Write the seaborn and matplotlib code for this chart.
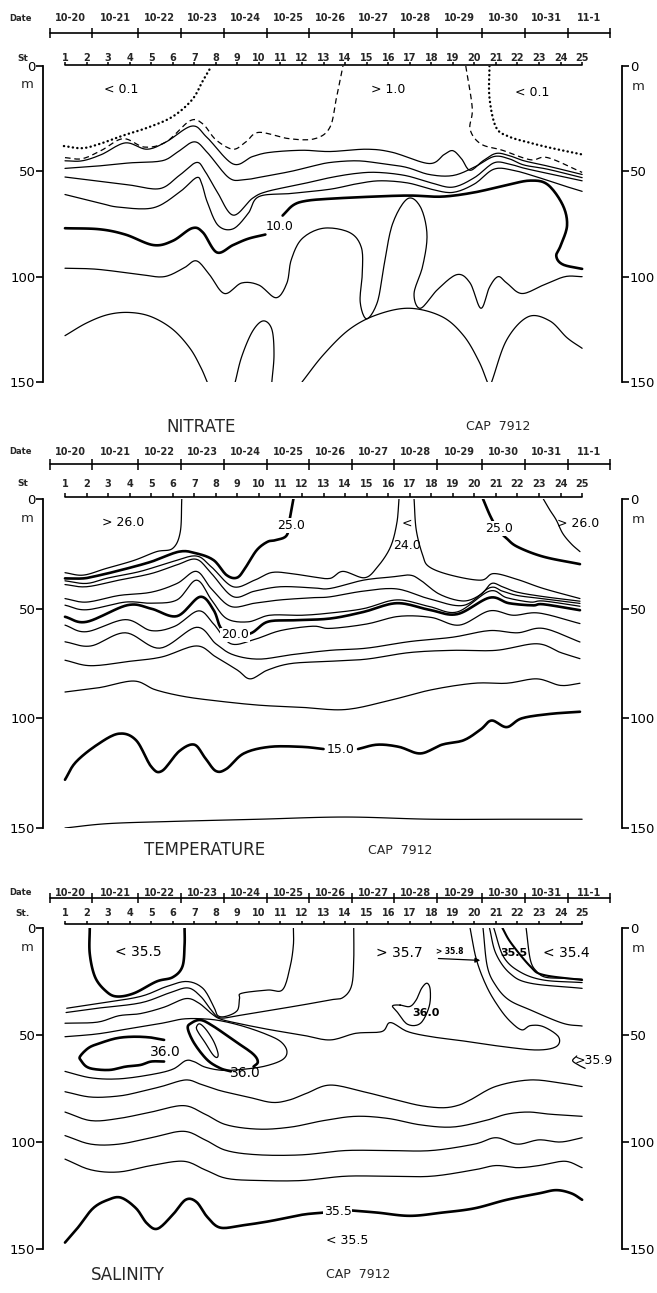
import numpy as np
import matplotlib
matplotlib.use("Agg")
import matplotlib.pyplot as plt
import seaborn as sns

sns.set_theme(style="white")
plt.rcParams["font.family"] = ["DejaVu Sans"]

# ---------------- cruise track ----------------
dates = ["10-20", "10-21", "10-22", "10-23", "10-24", "10-25", "10-26",
         "10-27", "10-28", "10-29", "10-30", "10-31", "11-1"]
date_edges = [0.30, 2.25, 4.39, 6.39, 8.38, 10.38, 12.33, 14.32, 16.27,
              18.27, 20.36, 22.36, 24.35, 26.30]
stations = list(range(1, 26))
depth_ticks = [0, 50, 100, 150]

# ---------------- NITRATE isolines (station, depth m) ----------------
no3_dot_w = [(0.95, 38), (1.8, 39), (2.6, 37), (3.7, 33), (4.9, 29), (6.0, 24),
             (6.9, 16), (7.4, 7), (7.8, 0)]
no3_dot_e = [(20.7, 0), (20.7, 15), (21.0, 29), (21.6, 33.5), (22.6, 36.5),
             (23.6, 39), (25.0, 42)]
no3_dash_w = [(1.0, 43.5), (1.8, 44), (2.7, 40), (3.7, 34.5), (4.7, 38.5), (5.7, 36),
              (6.8, 26), (7.4, 27.5), (8.0, 35), (8.8, 39.5), (9.4, 36), (10.0, 31.5),
              (11.4, 34.5), (12.6, 34.5), (13.3, 29), (13.6, 15), (13.9, 0)]
no3_dash_e = [(19.6, 0), (19.9, 20), (19.8, 30), (20.3, 37), (21.3, 40), (22.6, 44.5),
              (23.4, 43.5), (25.0, 50.5)]
no3_l1 = [(1.0, 45), (1.8, 45), (2.7, 42), (3.8, 36.5), (4.8, 39.5), (5.7, 36), (6.9, 28.5),
          (7.6, 34), (8.8, 46.5), (9.7, 43), (10.5, 41), (12.0, 40), (13.3, 40.6), (15.0, 39.5),
          (16.2, 41), (17.9, 46.3), (18.6, 42), (19.0, 40.2), (19.4, 44), (19.8, 49.5),
          (20.4, 45), (21.0, 41.5), (21.6, 42.5), (22.3, 45), (23.4, 47.5), (25.0, 51.5)]
no3_l2 = [(1.0, 48.6), (2.5, 47.5), (4.0, 46), (5.5, 45), (6.2, 41), (7.0, 36), (7.6, 41),
          (8.6, 53), (9.3, 54), (10.2, 52.5), (11.5, 50), (12.5, 47.5), (13.3, 45.8),
          (14.5, 45), (15.5, 46), (16.8, 48), (17.9, 51.5), (19.0, 52), (20.0, 48),
          (20.9, 43), (21.6, 44), (22.3, 47), (23.4, 49), (25.0, 53)]
no3_l3 = [(1.0, 52.7), (2.6, 54.7), (4.0, 56.5), (5.4, 58.2), (6.3, 52), (7.1, 45.8),
          (7.5, 50), (8.05, 59.5), (8.8, 70.8), (9.7, 62.8), (10.4, 59.5), (12.0, 56),
          (13.3, 53), (14.5, 51), (15.5, 50.5), (16.8, 52), (18.0, 55.5), (19.0, 57.5),
          (20.0, 53), (20.9, 46), (21.6, 46.5), (22.3, 48.5), (23.4, 51), (25.0, 54.5)]
no3_l4 = [(1.0, 61), (2.6, 65), (3.5, 67), (5.1, 67.3), (6.3, 60), (7.1, 53), (7.35, 56),
          (7.6, 64.5), (8.1, 75.6), (8.8, 77.3), (9.5, 70), (10.0, 62), (11.5, 60.5),
          (13.3, 58.5), (14.5, 56), (15.6, 54.5), (16.9, 55.5), (18.0, 58.5), (19.0, 60),
          (20.0, 56), (20.9, 49), (21.8, 49.5), (23.0, 53), (24.2, 57), (25.0, 59.5)]
no3_10a = [(1.0, 77), (2.6, 77.5), (3.8, 80), (5.1, 85), (6.0, 83), (6.9, 77), (7.4, 79),
           (8.05, 88.5), (8.8, 85), (9.5, 82), (10.3, 80)]
no3_10b = [(11.1, 71), (11.6, 66), (12.2, 64), (13.3, 63), (15.3, 62), (17.0, 61.5),
           (18.5, 62), (20.0, 60), (21.5, 56.5), (22.6, 54.4), (23.4, 56.3), (24.1, 66),
           (24.3, 75.7), (24.0, 85.3), (23.8, 90.2), (24.1, 94.2), (25.0, 96.3)]
no3_l5 = [(1.0, 96), (2.5, 96.5), (4.5, 99), (5.6, 100), (6.5, 96), (7.1, 92.5), (7.7, 99),
          (8.4, 108), (9.2, 103), (10.0, 104), (10.8, 110), (11.3, 103), (11.5, 92),
          (12.0, 82), (13.0, 77), (14.2, 79), (14.75, 86), (14.8, 98), (14.7, 112), (15.0, 120),
          (15.5, 112), (15.8, 95), (16.2, 75), (16.9, 63), (17.5, 67), (17.8, 80), (17.6, 95),
          (17.2, 108), (17.5, 115), (18.3, 106), (19.2, 99), (19.8, 103), (20.3, 115),
          (20.7, 105), (21.1, 100), (21.5, 103), (22.2, 108), (23.2, 104), (24.2, 100),
          (25.0, 100)]
no3_l6 = [(1.0, 128), (2.0, 122), (3.0, 118), (4.0, 117), (5.0, 119), (6.0, 125),
          (6.8, 134), (7.3, 143), (7.6, 150)]
no3_l7 = [(8.9, 150), (9.2, 138), (9.7, 126), (10.2, 121), (10.6, 125), (10.7, 137),
          (10.6, 150)]
no3_l8 = [(12.0, 150), (13.0, 137), (14.2, 125), (15.5, 118), (17.0, 115), (18.5, 119),
          (19.5, 128), (20.2, 140), (20.6, 150)]
no3_l9 = [(20.8, 150), (21.5, 130), (22.5, 119), (23.5, 121), (24.3, 129), (25.0, 134)]

# ---------------- TEMPERATURE isolines ----------------
t26_w = [(1.0, 33.6), (1.85, 34.7), (2.9, 31.7), (4.2, 28), (5.25, 24), (6.0, 22.5),
         (6.35, 15), (6.42, 0)]
t26_e = [(23.2, 0), (23.5, 5), (23.8, 9.6), (24.1, 15.7), (24.5, 20.5), (24.9, 24)]
t25_w = [(11.6, 0), (11.45, 8), (11.3, 16.4), (10.8, 18.7), (10.4, 19.5), (9.9, 23.3),
         (9.4, 30.9), (9.0, 35.8), (8.5, 34.7), (7.9, 27.9), (7.1, 24.8), (6.3, 24),
         (5.0, 28.6), (3.6, 32.4), (2.5, 35), (1.85, 36.2), (1.0, 36.2)]
t25_e = [(20.4, 0), (20.75, 8), (21.1, 14), (21.5, 18), (22.0, 21.8), (23.2, 26.3),
         (24.9, 29.7)]
t24_w = [(1.0, 37.3), (2.0, 38.5), (3.0, 36), (4.5, 33), (6.0, 28.5), (7.1, 26), (7.8, 31),
         (8.8, 40), (9.8, 37), (10.6, 33.5), (11.5, 34), (12.5, 35.5), (13.3, 36.2),
         (13.9, 33), (14.9, 35.9), (15.5, 31), (16.1, 22), (16.4, 11), (16.5, 0)]
t24_e = [(17.2, 0), (17.3, 14), (17.6, 25.6), (17.9, 30.9), (18.9, 34.7), (20.3, 37),
         (20.9, 34), (22.0, 36.7), (23.2, 40.8), (24.9, 45.4)]
t23 = [(1.0, 39), (2.0, 40), (3.5, 37), (5.0, 34), (6.2, 30), (7.1, 27.5), (7.8, 34),
       (8.8, 44.5), (9.8, 42), (11.0, 40), (12.5, 40.5), (13.3, 40.8), (14.85, 37),
       (16.2, 35.5), (17.0, 34.7), (17.5, 37), (18.4, 43.5), (19.5, 46.5), (20.3, 43.5),
       (20.8, 38.5), (21.3, 40), (22.0, 42.5), (23.2, 44.5), (24.9, 46.6)]
t22 = [(1.0, 45.4), (2.0, 47), (3.5, 44), (5.0, 42.5), (6.2, 38.5), (7.1, 33), (7.8, 41),
       (8.7, 49), (9.8, 47.5), (11.0, 46), (12.5, 45), (13.3, 44.6), (14.85, 42),
       (16.4, 41), (17.9, 45.5), (19.5, 48.5), (20.7, 40.5), (21.3, 42), (22.0, 44),
       (23.2, 45.5), (24.9, 47.6)]
t21 = [(1.0, 48.4), (2.0, 50.5), (3.8, 47), (5.0, 47.5), (6.2, 46), (7.1, 37), (7.8, 46),
       (8.5, 54.5), (9.5, 56), (10.5, 53), (12.0, 53), (13.3, 52), (14.85, 50), (16.4, 46),
       (17.9, 49), (19.2, 51.5), (20.7, 42), (21.5, 45), (22.6, 47), (23.2, 46.5),
       (24.9, 48.9)]
t20 = [(1.0, 53.7), (2.0, 56), (3.9, 48.4), (5.0, 50), (6.2, 53.4), (7.27, 44.6),
       (7.9, 50.7), (8.2, 58.3), (8.6, 62), (9.6, 61.3), (10.4, 56), (11.6, 55.3),
       (13.3, 54.5), (14.85, 51.5), (16.4, 47.5), (17.9, 50.5), (19.2, 52.5), (20.7, 45),
       (21.6, 47.5), (22.7, 48.5), (23.2, 48), (24.9, 50.7)]
t19 = [(1.0, 57.5), (2.0, 60.5), (3.8, 55), (5.0, 60), (6.1, 58), (7.2, 51), (7.9, 57),
       (8.7, 66), (9.8, 64), (11.0, 60), (12.5, 58), (13.3, 59), (15.0, 57), (16.5, 53.5),
       (18.0, 54), (19.3, 57.5), (20.7, 51), (21.8, 53), (23.0, 52), (24.9, 56.8)]
t18 = [(1.0, 65.1), (2.2, 67), (3.8, 61), (5.4, 68), (7.1, 58.5), (8.0, 66), (8.8, 71),
       (10.0, 73), (11.5, 71), (13.3, 69), (15.0, 68), (17.0, 65), (19.0, 63),
       (20.7, 60), (22.0, 61), (23.2, 59), (24.9, 65.2)]
t17 = [(1.0, 73.5), (2.2, 76), (4.0, 74), (5.5, 72), (7.1, 67), (8.0, 72), (9.0, 78),
       (9.6, 82), (10.4, 78), (11.5, 75), (13.3, 74), (15.0, 73), (17.0, 70), (19.0, 69),
       (21.0, 69), (22.9, 66), (24.0, 70), (24.9, 72.8)]
t16 = [(1.0, 88), (2.6, 86), (4.2, 83), (5.2, 87), (6.5, 90), (8.0, 92), (10.0, 94),
       (12.0, 95), (14.0, 96), (16.0, 92), (18.0, 87), (20.0, 84), (21.5, 84),
       (22.9, 82), (24.0, 85), (24.9, 84)]
t15a = [(1.0, 128), (1.5, 120), (2.5, 112), (3.5, 107), (4.3, 110), (5.0, 122),
        (5.5, 124), (6.3, 115), (7.0, 112), (7.5, 118), (8.0, 124), (8.5, 123),
        (9.3, 116), (10.5, 113), (12.0, 113), (13.0, 114)]
t15b = [(14.6, 114), (15.5, 112), (16.5, 113), (17.5, 116), (18.5, 112), (19.5, 110),
        (20.3, 105), (20.8, 101), (21.5, 104), (22.2, 100), (23.5, 98), (24.9, 97)]
t14 = [(1.0, 150), (3.0, 148), (6.0, 147), (10.0, 146), (14.0, 145), (18.0, 146),
       (22.0, 146), (25.0, 146)]

# ---------------- SALINITY isolines ----------------
s355_top = [(2.15, 0), (2.15, 12), (2.4, 23), (2.9, 29.5), (3.4, 32), (4.2, 30.5),
            (5.25, 25), (6.0, 23), (6.45, 18), (6.55, 8), (6.55, 0)]
s_a = [(1.08, 37.5), (2.6, 35.2), (4.5, 32), (5.7, 27.4), (6.65, 25), (7.4, 28.2),
       (7.9, 36.7), (8.1, 41), (8.5, 41.2), (9.0, 38.5), (9.1, 33), (9.2, 30.5),
       (10.4, 29), (11.1, 28.8), (11.45, 18), (11.6, 8), (11.6, 0)]
s_b = [(1.05, 39.5), (2.5, 37.5), (4.5, 35), (5.8, 30.5), (6.7, 28), (7.3, 32),
       (7.8, 38.5), (8.2, 42), (9.0, 41), (10.5, 38.5), (12.0, 36), (13.3, 33.6),
       (13.9, 32.5), (14.3, 27), (14.4, 15), (14.4, 0)]
s_c = [(1.0, 44.5), (2.5, 44), (3.5, 41), (4.5, 40), (5.6, 37), (6.6, 33), (7.2, 35),
       (7.8, 40), (8.2, 42.5), (9.0, 44.5), (10.5, 47.5), (12.0, 50), (13.3, 52.3),
       (14.5, 49.2), (15.7, 48.4), (16.1, 44.2), (16.9, 48.4), (18.0, 50.8), (19.5, 52.8),
       (21.3, 55.4), (22.9, 57), (23.8, 55.4), (23.9, 50.8), (23.2, 46.1), (22.6, 45.6),
       (22.2, 47.6), (21.7, 44), (21.2, 38), (20.6, 28), (20.1, 15), (19.8, 0)]
s_r2 = [(20.4, 0), (20.6, 18), (21.0, 27), (21.6, 33.6), (22.6, 38.3), (24.1, 44.5),
        (25.0, 45.8)]
s_r3 = [(20.7, 0), (21.0, 12), (21.65, 21.2), (22.6, 25.8), (25.0, 28.2)]
s_r4 = [(20.9, 0), (21.35, 13.4), (22.1, 20.4), (23.2, 24.3), (25.0, 25.5)]
s_r5 = [(21.3, 0), (21.7, 7), (22.6, 18), (23.2, 21.9), (25.0, 24.3)]
s_r6 = [(22.4, 0), (22.6, 15), (22.9, 20.4), (23.3, 23), (24.1, 23.5), (25.0, 23.9)]
s_359 = [(1.0, 50.8), (2.5, 49.5), (4.0, 47), (5.5, 44.5), (6.5, 42.5), (7.5, 42.5),
         (8.3, 43.5), (9.3, 46), (10.3, 49.5), (11.0, 53), (11.3, 57.5), (11.1, 61.5),
         (10.3, 64.5), (9.3, 66), (8.3, 66.5), (7.5, 65), (7.0, 62.5), (6.6, 62),
         (6.0, 66), (5.0, 68.5), (3.5, 70.5), (2.2, 70), (1.0, 67)]
s360_w = [(5.6, 52.3), (5.0, 51.2), (4.2, 50.8), (3.4, 51.5), (2.6, 53.9), (2.1, 56),
          (1.7, 60), (1.75, 62), (2.0, 64.8), (2.4, 66), (3.1, 66.3), (3.8, 64.8),
          (4.5, 64), (5.0, 62.4), (5.6, 62.4)]
s360_c = [(8.7, 67), (8.2, 65.5), (7.6, 61.6), (7.0, 53.9), (6.7, 47), (6.85, 44.5),
          (7.3, 43), (7.9, 46), (8.8, 52.3), (9.7, 58.6), (9.95, 62.5), (9.75, 64.8)]
s360_core = [(7.1, 46.5), (7.25, 44.8), (7.55, 47.5), (7.9, 53), (8.1, 58.5), (8.05, 60.5),
             (7.85, 59), (7.5, 53.5), (7.2, 49)]
s360_e = [(16.55, 36), (16.2, 36.4), (16.4, 39), (16.9, 45), (17.5, 44.5), (17.9, 36.7),
          (17.95, 28.9), (17.8, 25.8), (17.55, 28.2), (17.3, 33.6), (17.0, 36.7)]
s359_hook = [(24.75, 59.8), (24.56, 62), (24.83, 64), (25.14, 65.6)]
s_e = [(1.0, 76.5), (2.2, 79), (3.5, 78.5), (4.5, 76.5), (5.5, 74), (6.6, 71), (7.3, 73),
       (8.2, 76), (9.5, 79), (10.6, 81.5), (11.4, 80.4), (12.2, 77.3), (13.3, 73.4),
       (14.85, 76.5), (16.4, 80.4), (17.5, 83), (18.5, 84), (19.2, 83), (19.8, 80.4),
       (21.0, 74), (22.6, 71), (24.1, 72.6), (25.0, 74.1)]
s_f = [(1.0, 86), (2.2, 90), (3.5, 89), (5.0, 86), (6.5, 83), (7.5, 87), (8.5, 92),
       (10.0, 94), (11.5, 93), (13.0, 90), (14.5, 88), (16.0, 89), (17.5, 92), (19.0, 93),
       (20.5, 90), (21.5, 87), (22.5, 86), (23.5, 87), (25.0, 88)]
s_g = [(1.0, 97), (2.2, 101), (3.5, 101), (5.0, 98), (6.5, 95), (7.5, 99), (8.5, 104),
       (10.0, 106), (12.0, 106), (14.0, 104), (16.0, 104), (18.0, 104), (20.0, 101),
       (21.0, 98), (22.0, 101), (23.0, 99), (24.0, 100), (25.0, 98)]
s_h = [(1.0, 108), (2.2, 113), (3.5, 114), (5.0, 111), (6.5, 109), (7.5, 113),
       (8.5, 117), (10.0, 118), (12.0, 118), (14.0, 116), (16.0, 116), (18.0, 116),
       (20.0, 113), (21.0, 111), (22.0, 112), (23.0, 111), (24.2, 109), (25.0, 112)]
s355_a = [(1.0, 147), (1.6, 140), (2.3, 131), (3.0, 127), (3.6, 126), (4.3, 131),
          (4.8, 138), (5.3, 140.5), (6.0, 134), (6.6, 127), (7.1, 128), (7.6, 135),
          (8.2, 140), (9.2, 139), (10.5, 137), (12.0, 134), (13.0, 133)]
s355_b = [(14.3, 132), (15.5, 133), (17.0, 134.5), (18.5, 133), (20.0, 131), (21.5, 127),
          (23.0, 124), (23.8, 122.5), (24.5, 124), (25.0, 127)]

# ---------------- figure geometry (pixels) ----------------
FIG_W, FIG_H = 657, 1293
X0_PX, X1_PX = 43, 622
S_LEFT, S_RIGHT = -0.02, 26.85
THICK = 1.9


def catmull(pts, closed=False, n=12):
    p = np.asarray(pts, float)
    if closed:
        p = np.vstack([p[-1], p, p[0], p[1]])
    else:
        p = np.vstack([2 * p[0] - p[1], p, 2 * p[-1] - p[-2]])
    t = np.linspace(0, 1, n, endpoint=False)[:, None]
    out = []
    for i in range(1, len(p) - 2):
        p0, p1, p2, p3 = p[i - 1], p[i], p[i + 1], p[i + 2]
        seg = 0.5 * (2 * p1 + (-p0 + p2) * t + (2 * p0 - 5 * p1 + 4 * p2 - p3) * t ** 2
                     + (-p0 + 3 * p1 - 3 * p2 + p3) * t ** 3)
        out.append(seg)
    out.append(p[-2][None, :])
    return np.vstack(out)


def iso(ax, pts, lw=0.9, ls="-", closed=False, **kw):
    xy = catmull(pts, closed)
    sns.lineplot(x=xy[:, 0], y=xy[:, 1], sort=False, estimator=None, ax=ax,
                 color="black", linewidth=lw, linestyle=ls, legend=False, **kw)


def label(ax, s, d, txt, size=9, white=False, **kw):
    bb = dict(facecolor="white", edgecolor="none", pad=0.6) if white else None
    ax.text(s, d, txt, ha="center", va="center", fontsize=size, color="black",
            bbox=bb, zorder=5, clip_on=False, **kw)


def make_panel(fig, y0, y150, date_lab_d, date_line_d, st_lab_d, st_line_d, st_name):
    ax = fig.add_axes([X0_PX / FIG_W, 1 - y150 / FIG_H, (X1_PX - X0_PX) / FIG_W,
                       (y150 - y0) / FIG_H])
    ax.set_facecolor("white")
    ax.set_xlim(S_LEFT, S_RIGHT)
    ax.set_ylim(150, 0)
    for side in ("top", "bottom"):
        ax.spines[side].set_visible(False)
    for side in ("left", "right"):
        ax.spines[side].set_color("black")
        ax.spines[side].set_linewidth(1.3)
    ax.set_xticks([])
    ax.set_yticks(depth_ticks)
    ax.set_yticklabels([str(v) for v in depth_ticks])
    ax.tick_params(axis="y", left=True, right=True, labelleft=True, labelright=True,
                   direction="out", length=5, width=1.2, colors="black", labelsize=9.5,
                   pad=0.5)
    ax.grid(False)
    ax.text(-0.75, 9, "m", ha="center", va="center", fontsize=9.5, clip_on=False)
    ax.text(27.6, 9.5, "m", ha="center", va="center", fontsize=9.5, clip_on=False)

    # station axis
    ax.plot([1, 25], [st_line_d, st_line_d], color="black", lw=1.2, clip_on=False)
    ax.vlines(stations, st_line_d - 1.6, st_line_d, color="black", lw=1.1, clip_on=False)
    for s in stations:
        ax.text(s, st_lab_d, str(s), ha="center", va="center", fontsize=7,
                fontweight="bold", clip_on=False)
    ax.text(-0.95, st_lab_d, st_name, ha="center", va="center", fontsize=6.5,
            fontweight="bold", clip_on=False)

    # date axis
    ax.plot([date_edges[0], date_edges[-1]], [date_line_d, date_line_d], color="black",
            lw=1.2, clip_on=False)
    ax.vlines(date_edges, date_line_d - 2.4, date_line_d + 2.4, color="black", lw=1.1,
              clip_on=False)
    for i, dname in enumerate(dates):
        ax.text(0.5 * (date_edges[i] + date_edges[i + 1]), date_lab_d, dname,
                ha="center", va="center", fontsize=7, fontweight="bold", clip_on=False)
    ax.text(-1.05, date_lab_d, "Date", ha="center", va="center", fontsize=6,
            fontweight="bold", clip_on=False)
    ax.set_xlabel("")
    ax.set_ylabel("")
    return ax


fig = plt.figure(figsize=(FIG_W / 100, FIG_H / 100), dpi=100)
fig.patch.set_facecolor("white")

# ===== NITRATE =====
ax1 = make_panel(fig, 66, 382, -22.6, -15.6, -3.6, -0.4, "St")
iso(ax1, no3_dot_w, lw=1.7, ls=(0, (0.1, 1.8)), dash_capstyle="round")
iso(ax1, no3_dot_e, lw=1.7, ls=(0, (0.1, 1.8)), dash_capstyle="round")
iso(ax1, no3_dash_w, lw=0.9, ls=(0, (4.5, 3)))
iso(ax1, no3_dash_e, lw=0.9, ls=(0, (4.5, 3)))
for line in (no3_l1, no3_l2, no3_l3, no3_l4, no3_l5, no3_l6, no3_l7, no3_l8, no3_l9):
    iso(ax1, line)
iso(ax1, no3_10a, lw=THICK)
iso(ax1, no3_10b, lw=THICK)
label(ax1, 3.6, 11, "< 0.1")
label(ax1, 16.0, 11, "> 1.0")
label(ax1, 22.7, 12.5, "< 0.1")
label(ax1, 10.95, 76, "10.0", white=True)
fig.text(201 / FIG_W, 1 - 427 / FIG_H, "NITRATE", ha="center", va="center", fontsize=12)
fig.text(498 / FIG_W, 1 - 427 / FIG_H, "CAP  7912", ha="center", va="center", fontsize=9)

# ===== TEMPERATURE =====
ax2 = make_panel(fig, 499, 828, -21.5, -15.8, -7.0, -1.0, "St")
iso(ax2, t26_w)
iso(ax2, t26_e)
iso(ax2, t25_w, lw=THICK)
iso(ax2, t25_e, lw=THICK)
for line in (t24_w, t24_e, t23, t22, t21, t19, t18, t17, t16, t14):
    iso(ax2, line)
iso(ax2, t20, lw=THICK)
iso(ax2, t15a, lw=THICK)
iso(ax2, t15b, lw=THICK)
label(ax2, 3.7, 10.5, "> 26.0")
label(ax2, 11.5, 12, "25.0", white=True)
label(ax2, 8.9, 62, "20.0", white=True)
label(ax2, 16.85, 11, "<")
label(ax2, 16.85, 21, "24.0")
label(ax2, 21.15, 13.5, "25.0", white=True)
label(ax2, 24.8, 11, "> 26.0")
label(ax2, 13.8, 114, "15.0", white=True)
fig.text(205 / FIG_W, 1 - 850 / FIG_H, "TEMPERATURE", ha="center", va="center", fontsize=12)
fig.text(400 / FIG_W, 1 - 850 / FIG_H, "CAP  7912", ha="center", va="center", fontsize=9)

# ===== SALINITY =====
ax3 = make_panel(fig, 928, 1249, -16.4, -14.0, -7.0, -1.9, "St.")
iso(ax3, s355_top, lw=THICK)
for line in (s_a, s_b, s_c, s_r2, s_r3, s_r4, s_r6, s_e, s_f, s_g, s_h, s359_hook, s_359):
    iso(ax3, line)
iso(ax3, s_r5, lw=1.5)
iso(ax3, s360_w, lw=THICK)
iso(ax3, s360_c, lw=THICK)
iso(ax3, s360_core, closed=True)
iso(ax3, s360_e, closed=True)
iso(ax3, s355_a, lw=THICK)
iso(ax3, s355_b, lw=THICK)
label(ax3, 4.4, 11, "< 35.5", size=10)
label(ax3, 16.5, 11.8, "> 35.7", size=10)
label(ax3, 18.85, 11, "> 35.8", size=5.5, fontweight="bold")
ax3.annotate("", xy=(20.4, 15.2), xytext=(18.2, 14.2),
             arrowprops=dict(arrowstyle="-|>", color="black", lw=0.9, mutation_scale=7))
label(ax3, 21.85, 11.8, "35.5", size=8, fontweight="bold")
label(ax3, 24.25, 11.8, "< 35.4", size=10)
label(ax3, 5.65, 57.8, "36.0", size=10)
label(ax3, 9.35, 67.9, "36.0", size=10)
label(ax3, 17.75, 39.9, "36.0", size=8, fontweight="bold")
label(ax3, 13.65, 132.5, "35.5", size=9, white=True)
label(ax3, 14.1, 146, "< 35.5", size=9)
label(ax3, 25.55, 61.7, ">35.9", size=9)
fig.text(128 / FIG_W, 1 - 1275 / FIG_H, "SALINITY", ha="center", va="center", fontsize=12)
fig.text(358 / FIG_W, 1 - 1275 / FIG_H, "CAP  7912", ha="center", va="center", fontsize=9)

fig.savefig("out.png", dpi=100, facecolor="white")
